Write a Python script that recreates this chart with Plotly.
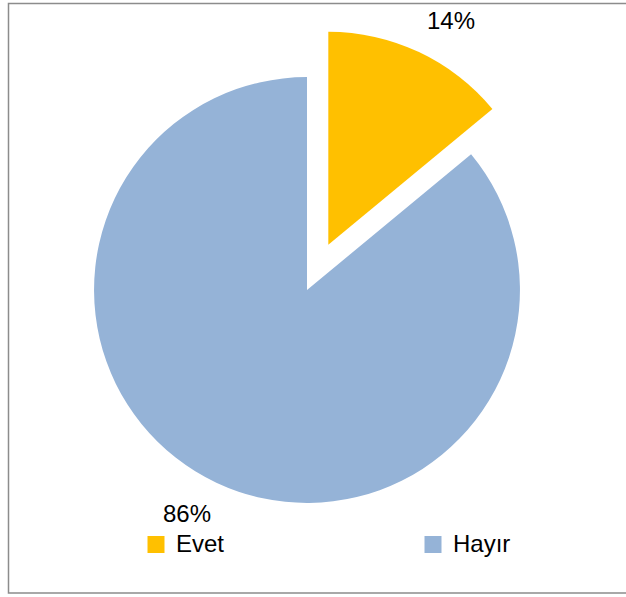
import plotly.graph_objects as go

# Survey answers and their shares (percent)
labels = ["Evet", "Hayır"]
values = [14, 86]
colors = ["#FFC000", "#95B3D7"]
pulls = [0.235, 0]

W, H = 626, 597
FONT = "Liberation Sans, Arial, sans-serif"


def px_x(x):
    return x / W


def px_y(y):
    return 1 - y / H


fig = go.Figure(
    go.Pie(
        labels=labels,
        values=values,
        marker=dict(colors=colors, line=dict(width=0)),
        pull=pulls,
        sort=False,
        direction="clockwise",
        rotation=0,
        textinfo="none",
        hoverinfo="label+percent",
        showlegend=False,
        domain=dict(x=[px_x(44), px_x(570)], y=[px_y(553), px_y(27)]),
    )
)

# Percentage labels outside the slices
total = sum(values)
label_pos = [(451, 20), (187, 513)]
for v, (lx, ly) in zip(values, label_pos):
    fig.add_annotation(
        x=px_x(lx), y=px_y(ly), xref="paper", yref="paper",
        text=f"{round(100 * v / total)}%", showarrow=False,
        font=dict(family=FONT, size=24, color="#000000"),
        xanchor="center", yanchor="middle",
    )

# Legend row along the bottom: colour key square + label for each answer
legend_x = [156, 433]
legend_y = 544.5
half = 8.5
for name, col, kx in zip(labels, colors, legend_x):
    fig.add_shape(
        type="rect", xref="paper", yref="paper",
        x0=px_x(kx - half), x1=px_x(kx + half),
        y0=px_y(legend_y + half), y1=px_y(legend_y - half),
        line=dict(width=0), fillcolor=col,
    )
    fig.add_annotation(
        x=px_x(kx + 18), y=px_y(legend_y - 1.5), xref="paper", yref="paper",
        text=name, showarrow=False,
        font=dict(family=FONT, size=24, color="#000000"),
        xanchor="left", yanchor="middle",
    )

# Chart-area frame
fig.add_shape(
    type="rect", xref="paper", yref="paper",
    x0=px_x(8.5), x1=px_x(640), y0=px_y(593), y1=px_y(3.5),
    line=dict(color="#8c8c8c", width=1.5), fillcolor="rgba(0,0,0,0)",
)

fig.update_layout(
    width=W, height=H,
    margin=dict(l=0, r=0, t=0, b=0),
    paper_bgcolor="white",
    plot_bgcolor="white",
    showlegend=False,
)

fig.write_html("out.html")
